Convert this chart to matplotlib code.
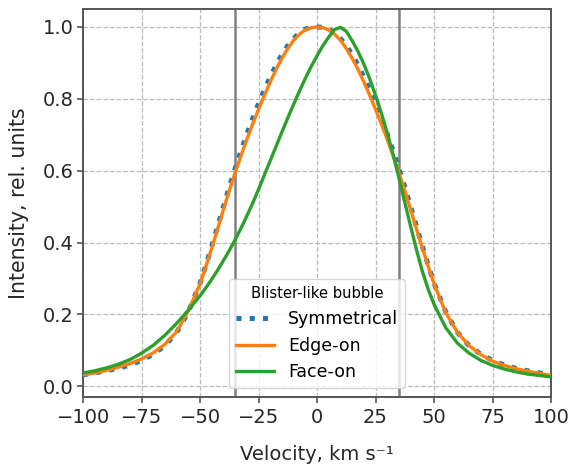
import numpy as np
import matplotlib
matplotlib.use("Agg")
import matplotlib.pyplot as plt

# Velocidade (km/s): passo 5 nas asas, 2.5 no núcleo
velocidade = np.concatenate([np.arange(-100, -49, 5),
                             np.arange(-47.5, 48, 2.5),
                             np.arange(50, 101, 5)])

# Perfis
simetrico = [0.032, 0.037, 0.043, 0.050, 0.059, 0.072, 0.089, 0.113, 0.150, 0.207, 0.287,
             0.337, 0.390, 0.445, 0.500, 0.555, 0.606, 0.655, 0.702, 0.746, 0.787,
             0.825, 0.861, 0.894, 0.923, 0.948, 0.968, 0.984, 0.994, 0.999,
             1.000,
             0.999, 0.994, 0.984, 0.968, 0.948, 0.923, 0.894, 0.861, 0.825,
             0.787, 0.746, 0.702, 0.655, 0.606, 0.555, 0.500, 0.445, 0.390, 0.337,
             0.287, 0.207, 0.150, 0.113, 0.089, 0.072, 0.059, 0.050, 0.043, 0.037, 0.032]

edge_on = [0.032, 0.037, 0.044, 0.053, 0.063, 0.076, 0.093, 0.117, 0.152, 0.210, 0.285,
           0.334, 0.385, 0.438, 0.492, 0.545, 0.595, 0.642, 0.687, 0.730, 0.771,
           0.810, 0.847, 0.882, 0.913, 0.940, 0.963, 0.980, 0.992, 0.998,
           1.000,
           0.998, 0.992, 0.980, 0.963, 0.940, 0.913, 0.882, 0.847, 0.810,
           0.771, 0.730, 0.687, 0.642, 0.595, 0.545, 0.492, 0.438, 0.385, 0.334,
           0.285, 0.205, 0.150, 0.113, 0.088, 0.070, 0.058, 0.049, 0.042, 0.036, 0.030]

face_on = [0.037, 0.043, 0.051, 0.061, 0.074, 0.092, 0.114, 0.142, 0.175, 0.212, 0.252,
           0.274, 0.298, 0.323, 0.350, 0.378, 0.408, 0.440, 0.474, 0.510, 0.548,
           0.588, 0.628, 0.668, 0.708, 0.747, 0.785, 0.822, 0.857, 0.890,
           0.920,
           0.948, 0.972, 0.993, 0.999, 0.988, 0.962, 0.932, 0.897, 0.856,
           0.810, 0.760, 0.705, 0.645, 0.580, 0.512, 0.445, 0.380, 0.320, 0.270,
           0.228, 0.163, 0.120, 0.092, 0.072, 0.058, 0.048, 0.040, 0.034, 0.030, 0.026]

limites = [-35, 35]

fig = plt.figure(figsize=(5.73, 4.65), dpi=100)
ax = fig.add_axes([0.145, 0.1462, 0.8166, 0.8344])

ax.grid(True, linestyle='--', color='#bbbbbb', linewidth=0.9)
ax.set_axisbelow(True)

for v in limites:
    ax.axvline(v, color='#808080', linewidth=1.8, zorder=2)

ax.plot(velocidade, simetrico, color='#1f77b4', linestyle=':', linewidth=3.6, label='Symmetrical', zorder=3)
ax.plot(velocidade, edge_on, color='#ff7f0e', linewidth=2.4, label='Edge-on', zorder=4)
ax.plot(velocidade, face_on, color='#2ca02c', linewidth=2.4, label='Face-on', zorder=4)

ax.set_xlim(-100, 100)
ax.set_ylim(-0.03, 1.05)
ax.set_xticks(np.arange(-100, 101, 25))
ax.set_yticks(np.arange(0, 1.01, 0.2))
ax.set_yticklabels([f"{t:.1f}" for t in np.arange(0, 1.01, 0.2)])

for s in ax.spines.values():
    s.set_color('#555555')
    s.set_linewidth(1.4)
ax.tick_params(labelsize=14, length=4.5, width=1.2, color='#555555', labelcolor='#262626')
ax.tick_params(axis='y', pad=2.5)
ax.tick_params(axis='x', pad=3.5)

ax.set_xlabel("Velocity, km s\u207b\u00b9", fontsize=14, color='#262626', labelpad=13)
ax.set_ylabel("Intensity, rel. units", fontsize=14.8, color='#262626', labelpad=9.5)

leg = ax.legend(title='Blister-like bubble', loc='lower center', fontsize=12.5,
                title_fontsize=10.6, handlelength=2.2, framealpha=0.8)
leg.get_frame().set_edgecolor('#cccccc')

fig.savefig('out.png', dpi=100)
